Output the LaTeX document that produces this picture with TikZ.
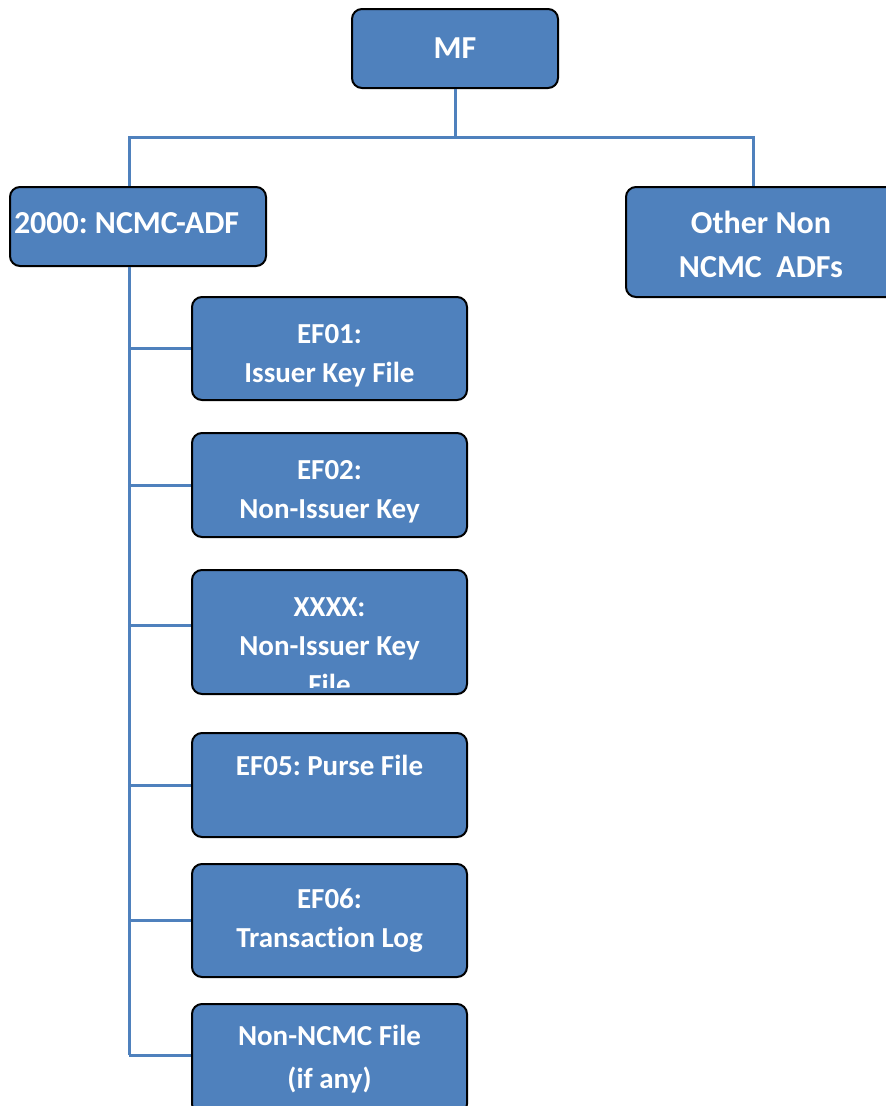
\documentclass[tikz,border=0pt]{standalone}
\usepackage{fontspec}
\setmainfont{Carlito}[Ligatures=NoCommon]
\usepackage{tikz}
\usetikzlibrary{calc,positioning}

\definecolor{fileblue}{HTML}{4F81BD}
\newcommand\filefont{\fontsize{29}{39}\selectfont\bfseries\frenchspacing}
\newcommand\groupfont{\fontsize{32}{44}\selectfont\bfseries\frenchspacing}
\newcommand\firstline{\rule{0pt}{33pt}}

\begin{document}
\begin{tikzpicture}[x=1pt, y=-1pt, every node/.style={inner sep=2pt},
    filetext/.style={text=white, font=\filefont, align=center},
    filebox/.style={filetext, draw=black, line width=2pt, fill=fileblue,
        rounded corners=10pt, minimum width=275pt, minimum height=104pt},
    groupbox/.style={filebox, font=\groupfont},
    link/.style={draw=fileblue, line width=3pt} ]

    \useasboundingbox (0,0) rectangle (886,1106);
    \clip (0,0) rectangle (886,1106);

    % Master file and the two application groups
    \node[groupbox, minimum width=206pt, minimum height=79pt] (mf) at (455,48.5) {MF};
    \node[groupbox, minimum width=256pt, minimum height=79pt]
        (adf) at (138,226.5) {\makebox[248pt][l]{2000: NCMC-ADF}\rule[-6pt]{0pt}{0pt}};
    \node[groupbox, minimum width=270pt, minimum height=110pt] (other) at (761,242)
        {\rule{0pt}{27pt}Other Non\\NCMC~~ADFs};

    % Elementary files under the NCMC ADF
    \node[filebox, minimum height=103pt] (ef01) at (329.5,348.5) {\firstline EF01:\\Issuer Key File};
    \node[filebox, below=31pt of ef01] (ef02) {\firstline EF02:\\Non-Issuer Key};
    \node[filebox, minimum height=124pt, below=31pt of ef02] (xxxx) {};
    \node[filebox, below=37pt of xxxx] (ef05) {EF05: Purse File\\~};
    \node[filebox, minimum height=113pt, below=25pt of ef05] (ef06) {EF06:\\Transaction Log};
    \node[filebox, minimum height=110pt, below=25pt of ef06] (nonncmc) {Non-NCMC File\\[4pt](if any)};

    % Text overflows the box, cut at the inner margin.
    \begin{scope}
        \clip ([yshift=8pt]xxxx.south west) rectangle (xxxx.north east);
        \node[filetext] (xxxxtext) at ([yshift=-14pt]xxxx.center)
            {XXXX:\\Non-Issuer Key\\File};
    \end{scope}

    % MF splits into the two groups
    \coordinate (split) at ($(mf.south)+(0,48)$);
    \coordinate (adftop) at ([xshift=-9pt]adf.north);
    \coordinate (othertop) at ([xshift=-8pt]other.north);
    \draw[link] (mf.south) -- (split);
    \draw[link] (adftop) |- (split) -| (othertop);

    % Trunk down the left with a branch to each file
    \coordinate (trunk) at ([xshift=-9pt]adf.south);
    \draw[link] (trunk) -- ([yshift=4pt]trunk |- nonncmc.west);
    \draw[link] (trunk |- ef01.west) -- (ef01.west)
        (trunk |- ef02.west) -- (ef02.west)
        ([yshift=7pt]trunk |- xxxx.west) -- ([yshift=7pt]xxxx.west)
        (trunk |- ef05.west) -- (ef05.west)
        (trunk |- ef06.west) -- (ef06.west)
        ([yshift=4pt]trunk |- nonncmc.west) -- ([yshift=4pt]nonncmc.west);

\end{tikzpicture}
\end{document}
